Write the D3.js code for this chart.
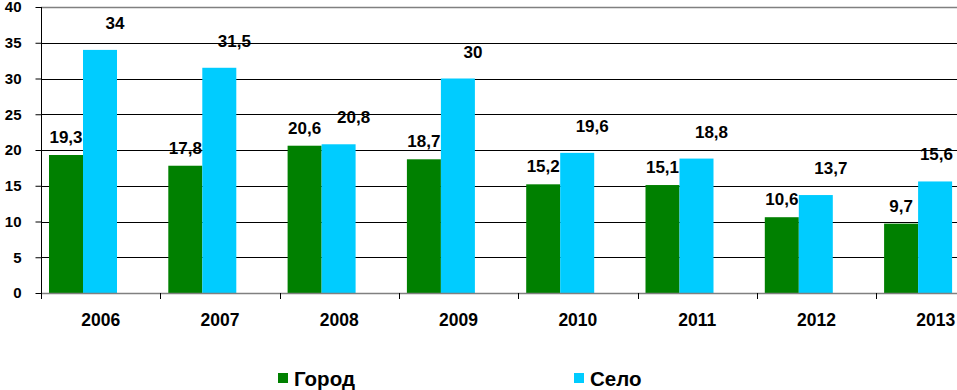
<!DOCTYPE html>
<html>
<head>
<meta charset="utf-8">
<script src="https://cdn.jsdelivr.net/npm/d3@7"></script>
<style>
  body { margin: 0; background: #fff; }
  svg { display: block; font-family: Arial, "Liberation Sans", sans-serif; font-weight: bold; }
</style>
</head>
<body>
<div id="chart"></div>
<script>
// Data
const years = ["2006", "2007", "2008", "2009", "2010", "2011", "2012", "2013"];
const seriesNames = ["Город", "Село"];
const gorod = [19.3, 17.8, 20.6, 18.7, 15.2, 15.1, 10.6, 9.7];
const selo = [34, 31.5, 20.8, 30, 19.6, 18.8, 13.7, 15.6];
const yTicks = [0, 5, 10, 15, 20, 25, 30, 35, 40];
const colors = ["#008000", "#00ccff"];

const W = 957, H = 390;
const plotLeft = 41, plotTop = 7, plotBottom = 293;
const step = 119.3;

const svg = d3.select("#chart").append("svg")
    .attr("width", W)
    .attr("height", H);

// Scales
const x = d3.scaleBand()
    .domain(years)
    .range([plotLeft, plotLeft + step * years.length]);

const xInner = d3.scaleBand()
    .domain(seriesNames)
    .range([8, 76]);

const y = d3.scaleLinear()
    .domain([0, 40])
    .range([plotBottom, plotTop]);

// Gridlines
svg.append("g")
    .selectAll("line")
    .data(yTicks.filter(t => t > 0 && t < 40))
    .enter()
    .append("line")
    .attr("x1", plotLeft)
    .attr("x2", W)
    .attr("y1", d => Math.round(y(d)) + 0.5)
    .attr("y2", d => Math.round(y(d)) + 0.5)
    .style("stroke", "#000")
    .style("stroke-width", 1);

// Top border
svg.append("line")
    .attr("x1", plotLeft).attr("x2", W)
    .attr("y1", Math.round(y(40)) + 0.5).attr("y2", Math.round(y(40)) + 0.5)
    .style("stroke", "#808080")
    .style("stroke-width", 1.5);

// Bars
const rows = years.map((yr, i) => ({ year: yr, values: [gorod[i], selo[i]] }));

const groups = svg.selectAll(".grp")
    .data(rows)
    .enter()
    .append("g")
    .attr("class", "grp")
    .attr("transform", d => `translate(${x(d.year)},0)`);

groups.selectAll("rect")
    .data(d => d.values.map((v, j) => ({ name: seriesNames[j], value: v, j })))
    .enter()
    .append("rect")
    .attr("x", d => xInner(d.name))
    .attr("y", d => y(d.value))
    .attr("width", xInner.bandwidth())
    .attr("height", d => plotBottom - y(d.value))
    .style("fill", d => colors[d.j]);

// Value labels (kept inside the chart on the right side)
groups.selectAll("text.val")
    .data(d => d.values.map((v, j) => ({ name: seriesNames[j], value: v, j, year: d.year })))
    .enter()
    .append("text")
    .attr("class", "val")
    .attr("text-anchor", "middle")
    .style("font-size", "17px")
    .style("fill", "#000")
    .text(d => String(d.value).replace(".", ","))
    .attr("y", d => y(d.value) - (d.j === 1 ? 21 : 12))
    .attr("x", function(d) {
        const cx = xInner(d.name) + xInner.bandwidth() / 2 + (d.j === 1 ? 15 : 0);
        const half = this.getComputedTextLength() / 2;
        const maxX = W - 4 - half - x(d.year);
        return Math.min(cx, maxX);
    });

// Bottom axis
const xAxis = svg.append("g")
    .attr("transform", `translate(0,${plotBottom})`)
    .call(d3.axisBottom(x).tickSize(0).tickPadding(21));

xAxis.select(".domain")
    .attr("d", `M${plotLeft},0.5H${W}`)
    .style("stroke", "#808080")
    .style("stroke-width", 1.5);

xAxis.selectAll("text")
    .style("font-size", "17.5px")
    .style("font-weight", "bold")
    .style("font-family", "Arial, 'Liberation Sans', sans-serif")
    .style("fill", "#000");

// Category boundary ticks
svg.append("g")
    .selectAll("line")
    .data(years)
    .enter()
    .append("line")
    .attr("x1", d => Math.round(x(d)) + 0.5)
    .attr("x2", d => Math.round(x(d)) + 0.5)
    .attr("y1", plotBottom)
    .attr("y2", plotBottom + 6)
    .style("stroke", "#000");

// Left axis
const yAxis = svg.append("g")
    .attr("transform", `translate(${plotLeft + 0.5},0)`)
    .call(d3.axisLeft(y).tickValues(yTicks).tickSize(6).tickPadding(14));

yAxis.select(".domain")
    .attr("d", `M0,${plotTop}V${plotBottom}`)
    .style("stroke", "#000");

yAxis.selectAll("text")
    .style("font-size", "15px")
    .style("font-weight", "bold")
    .style("font-family", "Arial, 'Liberation Sans', sans-serif")
    .style("fill", "#000");

// Legend
const legendPos = [278, 574];
const legend = svg.selectAll(".leg")
    .data(seriesNames)
    .enter()
    .append("g")
    .attr("class", "leg")
    .attr("transform", (d, i) => `translate(${legendPos[i]},373)`);

legend.append("rect")
    .attr("width", 10)
    .attr("height", 10)
    .style("fill", (d, i) => colors[i]);

legend.append("text")
    .attr("x", 16)
    .attr("y", 13)
    .style("font-size", "20.5px")
    .text(d => d);
</script>
</body>
</html>
